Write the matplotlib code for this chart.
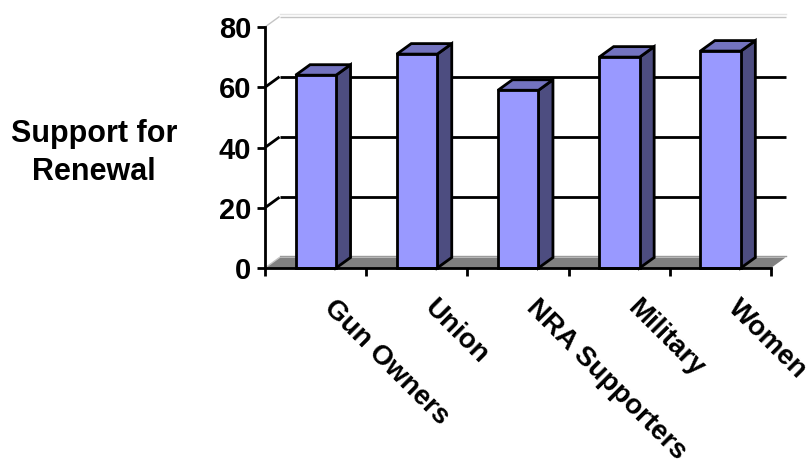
import matplotlib
matplotlib.use("Agg")
import matplotlib.pyplot as plt
from matplotlib.patches import Polygon
from matplotlib.transforms import ScaledTranslation

plt.rcParams['font.family'] = ['Liberation Sans', 'DejaVu Sans']

categories = ["Gun Owners", "Union", "NRA Supporters", "Military", "Women"]
support = [64, 71, 59, 70, 72]
y_ticks = [0, 20, 40, 60, 80]

W, H = 812, 472
AX_L, AX_R, AX_T, AX_B = 265, 771, 27, 268

# Fake 3D depth, expressed in data units of the axes
DEPTH_X = 14.5 / ((AX_R - AX_L) / len(categories))
DEPTH_Y = 10.5 / ((AX_B - AX_T) / 80)
BAR_WIDTH = 0.4

FRONT, TOP, SIDE = "#9999FF", "#7373BF", "#4D4D80"
FLOOR = "#808080"
EDGE = 2.8 * 72 / 100

fig = plt.figure(figsize=(W / 100, H / 100), dpi=100)
ax = fig.add_axes([AX_L / W, 1 - AX_B / H, (AX_R - AX_L) / W, (AX_B - AX_T) / H])
n = len(categories)
ax.set_xlim(0, n)
ax.set_ylim(0, 80)
ax.patch.set_visible(False)
for s in ("top", "right"):
    ax.spines[s].set_visible(False)
for s in ("left", "bottom"):
    ax.spines[s].set_linewidth(EDGE)
    ax.spines[s].set_zorder(6)

# Floor of the chart box
ax.add_patch(Polygon([(0, 0), (n, 0), (n + DEPTH_X, DEPTH_Y), (DEPTH_X, DEPTH_Y)],
                     closed=True, fc=FLOOR, ec="none", zorder=1, clip_on=False))
ax.plot([DEPTH_X, n + DEPTH_X], [DEPTH_Y + 0.5] * 2, color="#9a9a9a", lw=1, zorder=1, clip_on=False)

# Walls: grid lines run along the back and step diagonally down the side
for v in y_ticks:
    faint = v in (0, 80)
    col = "#c4c4c4" if faint else "black"
    lw = 1.0 if faint else EDGE
    ax.plot([0, DEPTH_X], [v, v + DEPTH_Y], color=col, lw=lw, zorder=2, clip_on=False,
            solid_capstyle="butt")
    if v > 0:
        ax.plot([DEPTH_X, n + DEPTH_X], [v + DEPTH_Y] * 2, color=col, lw=lw, zorder=2,
                clip_on=False, solid_capstyle="butt")
ax.plot([DEPTH_X, n + DEPTH_X], [80 + DEPTH_Y + 0.7] * 2, color="#e4e4e4", lw=1, zorder=2, clip_on=False)

# Extruded bars
for i, v in enumerate(support):
    x0 = i + 0.5 - BAR_WIDTH / 2 + 0.002
    x1 = x0 + BAR_WIDTH
    kw = dict(closed=True, ec="black", lw=EDGE, joinstyle="miter", zorder=4, clip_on=False)
    ax.add_patch(Polygon([(x1, 0), (x1 + DEPTH_X, DEPTH_Y), (x1 + DEPTH_X, v + DEPTH_Y), (x1, v)],
                         fc=SIDE, **kw))
    ax.add_patch(Polygon([(x0, v), (x1, v), (x1 + DEPTH_X, v + DEPTH_Y), (x0 + DEPTH_X, v + DEPTH_Y)],
                         fc=TOP, **kw))
    ax.add_patch(Polygon([(x0, 0), (x1, 0), (x1, v), (x0, v)], fc=FRONT, **kw))

# Value axis
ax.set_yticks(y_ticks)
ax.tick_params(axis="y", length=6, width=EDGE, pad=4, labelsize=21)
for t in ax.get_yticklabels():
    t.set_fontweight("bold")

# Category axis: major ticks on boundaries, labels placed on category centres
ax.set_xticks(range(n + 1))
ax.set_xticklabels([])
ax.tick_params(axis="x", which="major", length=6, width=EDGE, direction="out")
ax.set_xticks([i + 0.5 for i in range(n)], minor=True)
ax.set_xticklabels(categories, minor=True, rotation=-45, ha="left", va="center",
                   rotation_mode="anchor", fontsize=20, fontweight="bold")
ax.tick_params(axis="x", which="minor", length=0, pad=26)
shift = ScaledTranslation(12 / 100, 0, fig.dpi_scale_trans)
for t in ax.xaxis.get_minorticklabels():
    t.set_transform(t.get_transform() + shift)

fig.text(94 / W, 1 - 153 / H, "Support for\nRenewal", ha="center", va="center",
         fontsize=22, fontweight="bold", linespacing=1.33)

fig.savefig("out.png", dpi=100)
